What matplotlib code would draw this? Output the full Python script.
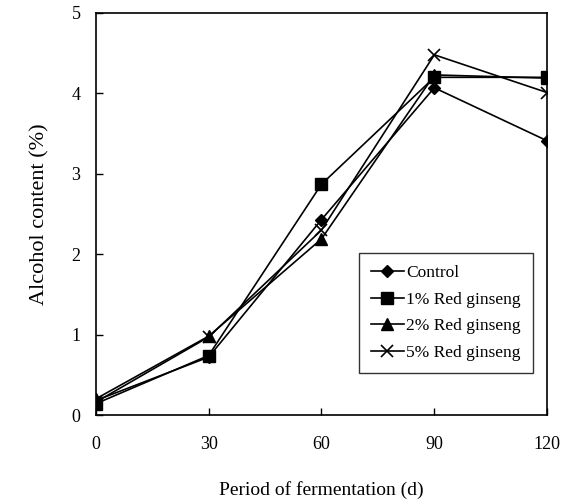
import matplotlib
matplotlib.use('Agg')
import matplotlib.pyplot as plt
import numpy as np

plt.rcParams['font.family'] = ['Liberation Serif', 'DejaVu Serif']

days = [0, 30, 60, 90, 120]
control = [0.18, 0.72, 2.43, 4.07, 3.41]
ginseng_1 = [0.14, 0.74, 2.87, 4.20, 4.20]
ginseng_2 = [0.20, 0.98, 2.19, 4.23, 4.19]
ginseng_5 = [0.16, 0.97, 2.30, 4.48, 4.01]
labels = ['Control', '1% Red ginseng', '2% Red ginseng', '5% Red ginseng']

fig = plt.figure(figsize=(5.7, 5.0), dpi=100)
ax = fig.add_axes([0.168, 0.17, 0.792, 0.804])

ax.plot(days, control, color='black', lw=1.2, marker='D', ms=6, label=labels[0])
ax.plot(days, ginseng_1, color='black', lw=1.2, marker='s', ms=8, label=labels[1])
ax.plot(days, ginseng_2, color='black', lw=1.2, marker='^', ms=8, label=labels[2])
ax.plot(days, ginseng_5, color='black', lw=1.2, marker='x', ms=9, mew=1.2, label=labels[3])

ax.set_xlim(0, 120)
ax.set_ylim(0, 5)
ax.set_xticks(days)
ax.set_yticks(range(0, 6))
ax.tick_params(direction='in', length=5, width=1, labelsize=13)
ax.tick_params(axis='x', pad=15)
ax.tick_params(axis='y', pad=11)
for s in ax.spines.values():
	s.set_linewidth(1.2)

ax.set_xlabel('Period of fermentation (d)', fontsize=14, labelpad=20)
ax.set_ylabel('Alcohol content (%)', fontsize=16, labelpad=16)

leg = ax.legend(loc='lower right', bbox_to_anchor=(0.969, 0.104), borderaxespad=0,
	fontsize=12.5, frameon=True, fancybox=False, edgecolor='black', handlelength=1.9,
	handletextpad=0.15, labelspacing=0.6, borderpad=0.7)
leg.get_frame().set_linewidth(1.0)

fig.savefig('out.png', dpi=100)
